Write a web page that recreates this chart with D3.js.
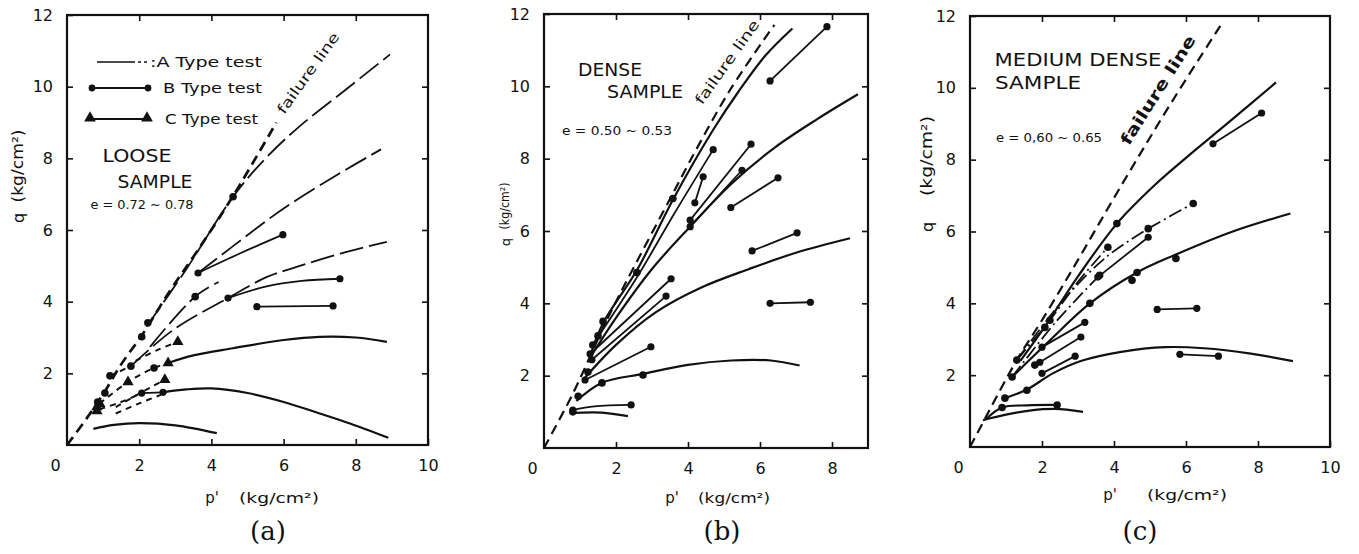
<!DOCTYPE html>
<html><head><meta charset="utf-8">
<script src="https://cdn.jsdelivr.net/npm/d3@7"></script>
<style>html,body{margin:0;padding:0;background:#fff;} svg{display:block;}</style>
</head><body>
<svg id="chart" width="1359" height="554"></svg>
<script>
// ---------------- data ----------------
const yTickValues = [2, 4, 6, 8, 10, 12];
const xTickValuesLoose = [0, 2, 4, 6, 8, 10];
const xTickValuesDense = [0, 2, 4, 6, 8];
const xTickValuesMedium = [0, 2, 4, 6, 8, 10];
const panelLetters = ["(a)", "(b)", "(c)"];
const legendLabels = [":A Type  test", "B Type  test", "C Type  test"];

// (a) loose sample
const looseFailure = [[0,0],[0.55,0.75],[1.05,1.5],[1.5,2.25],[2.1,3.1],[2.85,4.3],[3.6,5.4],[4.6,6.95],[5.8,9.0]];
const looseACurves = [
  [[2.2,3.3],[3.3,4.9],[4.6,6.93],[5.5,8.0],[6.45,8.9],[7.7,9.9],[8.95,10.9]],
  [[3.63,4.8],[4.6,5.55],[6.0,6.6],[7.5,7.55],[8.7,8.25]],
  [[1.77,2.2],[2.94,3.21],[4.46,4.1],[5.54,4.69],[6.36,4.97],[7.6,5.35],[8.86,5.67]],
  [[2.3,2.74],[3.55,4.14],[4.2,4.55]]
];
const looseSolidCurves = [
  [[2.8,2.29],[3.5,2.5],[4.6,2.7],[6.0,2.93],[7.0,3.02],[8.0,3.0],[8.86,2.88]],
  [[2.66,1.47],[3.3,1.55],[4.0,1.58],[5.0,1.45],[6.0,1.2],[7.0,0.88],[7.84,0.6],[8.9,0.2]],
  [[0.73,0.45],[1.3,0.56],[2.0,0.61],[3.0,0.55],[4.15,0.33]]
];
const looseBTests = [
  [[3.63,4.8],[4.8,5.35],[5.98,5.87]],
  [[4.46,4.1],[5.5,4.42],[6.5,4.58],[7.56,4.64]],
  [[5.26,3.86],[7.37,3.88]],
  [[2.07,1.45],[2.66,1.47]]
];
const looseCTests = [
  [[0.9,1.0],[1.5,1.2],[2.07,1.45]],
  [[1.35,0.88],[2.02,1.17],[2.6,1.4]],
  [[1.35,1.06],[2.3,1.6],[2.71,1.82]],
  [[0.9,1.15],[1.69,1.76],[2.41,2.15],[2.8,2.29]],
  [[1.19,1.93],[1.77,2.2]],
  [[1.9,2.35],[2.5,2.65],[3.07,2.88]]
];
const looseDots = [[1.05,1.45],[1.19,1.93],[1.77,2.2],[2.07,3.02],[2.24,3.41],[2.41,2.15],[3.55,4.14],[4.6,6.93],[0.85,1.2]];
const looseTriangles = [[0.83,1.06],[0.83,0.95],[0.91,1.15],[1.69,1.76],[2.71,1.82],[2.8,2.29],[3.07,2.88]];

// (b) dense sample
const denseFailure = [[0,0],[0.81,1.52],[1.75,3.55],[2.55,5.1],[3.55,6.98],[4.2,8.2],[5.2,9.95],[6.4,11.7]];
const denseSolidCurves = [
  [[1.3,2.6],[1.64,3.45],[2.6,4.95],[3.6,6.9],[4.7,8.8],[5.4,9.85],[6.15,10.85],[6.9,11.6]],
  [[1.25,2.45],[2.0,3.6],[3.0,4.95],[4.06,6.12],[5.2,7.3],[6.4,8.3],[7.6,9.1],[8.72,9.78]],
  [[1.1,1.9],[2.0,2.85],[3.1,3.75],[4.4,4.45],[5.7,4.95],[7.0,5.4],[8.5,5.8]],
  [[0.9,1.3],[1.6,1.8],[2.75,2.05],[4.0,2.3],[5.2,2.42],[6.3,2.42],[7.1,2.28]],
  [[0.8,0.97],[1.6,0.98],[2.33,0.88]]
];
const denseBTests = [
  [[1.35,2.85],[2.6,4.75],[3.6,6.45],[4.7,8.25]],
  [[4.19,6.78],[4.42,7.5]],
  [[4.06,6.3],[5.75,8.4]],
  [[4.06,6.12],[5.5,7.68]],
  [[5.19,6.65],[6.5,7.47]],
  [[5.78,5.45],[7.03,5.95]],
  [[6.28,10.15],[7.86,11.65]],
  [[6.28,4.0],[7.4,4.03]],
  [[1.28,2.6],[3.53,4.68]],
  [[1.33,2.44],[3.39,4.2]],
  [[1.14,1.88],[2.97,2.8]],
  [[0.8,1.05],[1.4,1.15],[2.42,1.19]]
];
const denseDots = [[0.8,1.0],[0.95,1.43],[1.61,1.8],[2.75,2.02],[1.5,3.1],[1.64,3.5],[2.58,4.85],[3.58,6.9],[1.22,2.1]];

// (c) medium dense sample
const mediumFailure = [[0,0],[0.28,0.53],[1.3,2.42],[2.0,3.53],[2.83,4.92],[4.25,7.36],[5.6,9.6],[7.0,11.8]];
const mediumSolidCurves = [
  [[1.4,2.4],[2.08,3.35],[3.0,4.75],[4.08,6.22],[5.14,7.3],[6.0,8.05],[7.2,9.05],[8.5,10.15]],
  [[1.17,1.95],[2.2,2.95],[3.33,4.0],[4.64,4.86],[5.7,5.35],[7.3,6.0],[8.9,6.5]],
  [[0.97,1.36],[1.58,1.6],[2.3,2.05],[3.1,2.4],[4.2,2.65],[5.42,2.78],[6.5,2.75],[7.8,2.6],[8.97,2.39]],
  [[0.36,0.75],[1.0,0.9],[1.7,1.02],[2.36,1.06],[3.14,0.98]],
  [[0.45,0.78],[0.89,1.1],[1.6,1.16],[2.42,1.17]]
];
const mediumBTests = [
  [[6.75,8.44],[8.1,9.3]],
  [[3.55,4.73],[4.95,5.84]],
  [[5.2,3.83],[6.3,3.86]],
  [[5.83,2.58],[6.9,2.53]],
  [[2.0,2.78],[3.19,3.47]],
  [[1.94,2.36],[3.08,3.06]],
  [[2.0,2.05],[2.92,2.53]]
];
const mediumACurves = [
  [[4.95,6.08],[5.6,6.45],[6.2,6.78]],
  [[1.3,2.42],[2.6,4.1],[3.8,5.3],[4.95,6.08]],
  [[1.3,2.42],[2.22,3.53],[3.0,4.6],[3.83,5.56]],
  [[1.17,1.95],[2.4,3.5],[3.55,4.73]]
];
const mediumDots = [[1.3,2.42],[1.17,1.95],[0.97,1.36],[0.89,1.1],[2.08,3.33],[2.22,3.53],[3.33,4.0],[4.08,6.22],[4.5,4.64],[4.64,4.86],[5.72,5.25],[1.58,1.58],[1.8,2.28],[3.6,4.78],[2.42,1.17],[3.83,5.56],[4.95,6.08],[6.2,6.78]];

// ---------------- drawing ----------------
const ink = "#111";
const svg = d3.select("#chart");
svg.append("rect").attr("width",1359).attr("height",554).attr("fill","#fff");

const panels = [
  {left:67, right:428, top:15, bottom:445, xMax:10, xTicks:xTickValuesLoose,
   failure:looseFailure, failW:2.7, solid:looseSolidCurves, aCurves:looseACurves, bTests:looseBTests,
   cTests:looseCTests, dots:looseDots, triangles:looseTriangles, aDash:"24,6"},
  {left:544, right:868, top:14, bottom:448, xMax:9, xTicks:xTickValuesDense,
   failure:denseFailure, failW:2.2, solid:denseSolidCurves, aCurves:[], bTests:denseBTests,
   cTests:[], dots:denseDots, triangles:[], aDash:"20,5,2,5"},
  {left:970, right:1330, top:16, bottom:447, xMax:10, xTicks:xTickValuesMedium,
   failure:mediumFailure, failW:2.2, solid:mediumSolidCurves, aCurves:mediumACurves, bTests:mediumBTests,
   cTests:[], dots:mediumDots, triangles:[], aDash:"14,4,2,4"}
];

panels.forEach((p, i) => {
  const x = d3.scaleLinear().domain([0, p.xMax]).range([p.left, p.right]);
  const y = d3.scaleLinear().domain([0, 12]).range([p.bottom, p.top]);
  const g = svg.append("g");
  const line = d3.line().x(d => x(d[0])).y(d => y(d[1])).curve(d3.curveCatmullRom.alpha(0.5));

  const axL = g.append("g").attr("transform", `translate(${p.left},0)`)
    .call(d3.axisLeft(y).tickValues(yTickValues).tickSizeInner(-6).tickSizeOuter(0).tickPadding(14));
  const axR = g.append("g").attr("transform", `translate(${p.right},0)`)
    .call(d3.axisRight(y).tickValues(yTickValues.filter(v=>v<12)).tickSizeInner(-6).tickSizeOuter(0).tickFormat(""));
  const axT = g.append("g").attr("transform", `translate(0,${p.top})`)
    .call(d3.axisTop(x).tickValues(p.xTicks.filter(v=>v>0 && v<p.xMax)).tickSizeInner(-6).tickSizeOuter(0).tickFormat(""));
  const axB = g.append("g").attr("transform", `translate(0,${p.bottom})`)
    .call(d3.axisBottom(x).tickValues(p.xTicks).tickSizeInner(-6).tickSizeOuter(0).tickPadding(15));
  [axL, axR, axT, axB].forEach(a => {
    a.select(".domain").remove();
    a.selectAll("line").attr("stroke", ink).attr("stroke-width", 1.6);
    a.selectAll("text").attr("fill", ink).attr("font-family", "DejaVu Sans").attr("font-size", 16);
  });
  axB.selectAll(".tick").filter(d => d === 0).select("text").attr("dx", -12);
  axB.selectAll(".tick").filter(d => d === 0).select("line").remove();

  g.append("rect").attr("x", p.left).attr("y", p.top)
    .attr("width", p.right - p.left).attr("height", p.bottom - p.top)
    .attr("fill", "none").attr("stroke", ink).attr("stroke-width", 2.2);

  g.append("path").attr("d", line(p.failure)).attr("fill","none").attr("stroke",ink)
    .attr("stroke-width", p.failW).attr("stroke-dasharray","10,6");
  p.solid.forEach(c => g.append("path").attr("d", line(c)).attr("fill","none")
    .attr("stroke",ink).attr("stroke-width",2.2));
  p.aCurves.forEach(c => g.append("path").attr("d", line(c)).attr("fill","none")
    .attr("stroke",ink).attr("stroke-width",1.8).attr("stroke-dasharray",p.aDash));
  p.cTests.forEach(c => g.append("path").attr("d", line(c)).attr("fill","none")
    .attr("stroke",ink).attr("stroke-width",2).attr("stroke-dasharray","6,5"));
  p.bTests.forEach(c => {
    g.append("path").attr("d", line(c)).attr("fill","none").attr("stroke",ink).attr("stroke-width",1.8);
    [c[0], c[c.length-1]].forEach(pt => g.append("circle").attr("cx", x(pt[0])).attr("cy", y(pt[1]))
      .attr("r", 3.6).attr("fill", ink));
  });
  p.dots.forEach(pt => g.append("circle").attr("cx", x(pt[0])).attr("cy", y(pt[1])).attr("r", 3.8).attr("fill", ink));
  const tri = d3.symbol().type(d3.symbolTriangle).size(55);
  p.triangles.forEach(pt => g.append("path").attr("d", tri())
    .attr("transform", `translate(${x(pt[0])},${y(pt[1])})`).attr("fill", ink));
});

function txt(x0, y0, s, size, opts = {}) {
  const t = svg.append("text").attr("x", x0).attr("y", y0).text(s)
    .attr("font-family", opts.family || "DejaVu Sans").attr("font-size", size)
    .attr("fill", ink).attr("text-anchor", opts.anchor || "middle")
    .attr("dominant-baseline", "central");
  if (opts.len) t.attr("textLength", opts.len).attr("lengthAdjust", "spacingAndGlyphs");
  if (opts.rot !== undefined) t.attr("transform", `rotate(${opts.rot},${x0},${y0})`);
  if (opts.weight) t.attr("font-weight", opts.weight);
  return t;
}

// axis titles
txt(18, 218, "q", 16, {rot:-90});
txt(18, 166, "(kg/cm²)", 15, {rot:-90, len:73});
txt(505, 242, "q", 13, {rot:-90});
txt(505, 206, "(kg/cm²)", 12, {rot:-90, len:47});
txt(927, 227, "q", 16, {rot:-90});
txt(927, 156, "(kg/cm²)", 15, {rot:-90, len:80});

txt(212, 498, "p'", 15); txt(279, 498, "(kg/cm²)", 14, {len:80});
txt(672, 498, "p'", 15); txt(734, 498, "(kg/cm²)", 14, {len:72});
txt(1110, 495, "p'", 15); txt(1187, 495, "(kg/cm²)", 14, {len:80});

[268, 722, 1140].forEach((cx, i) => txt(cx, 531, panelLetters[i], 26, {family:"DejaVu Serif"}));

// legend (a)
const lg = svg.append("g");
lg.append("line").attr("x1",97).attr("x2",147).attr("y1",62).attr("y2",62)
  .attr("stroke",ink).attr("stroke-width",1.6).attr("stroke-dasharray","38,3,3,3");
lg.append("line").attr("x1",92).attr("x2",148).attr("y1",88).attr("y2",88).attr("stroke",ink).attr("stroke-width",2);
[92,148].forEach(cx => lg.append("circle").attr("cx",cx).attr("cy",88).attr("r",3.4).attr("fill",ink));
lg.append("line").attr("x1",90).attr("x2",147).attr("y1",119).attr("y2",119).attr("stroke",ink).attr("stroke-width",2);
[90,147].forEach(cx => lg.append("path").attr("d", d3.symbol().type(d3.symbolTriangle).size(60)())
  .attr("transform",`translate(${cx},${118})`).attr("fill",ink));
txt(150, 62, legendLabels[0], 14, {anchor:"start", len:112});
txt(163, 88, legendLabels[1], 14, {anchor:"start", len:99});
txt(165, 119, legendLabels[2], 14, {anchor:"start", len:93});

txt(137, 156, "LOOSE", 17, {len:69});
txt(155, 182, "SAMPLE", 17, {len:75});
txt(142, 204, "e = 0.72 ~ 0.78", 13, {len:103});
txt(610, 70, "DENSE", 17, {len:64});
txt(645, 92, "SAMPLE", 17, {len:76});
txt(617, 130, "e = 0.50 ~ 0.53", 13, {len:110});
txt(1078, 60, "MEDIUM  DENSE", 17, {len:167});
txt(1038, 83, "SAMPLE", 17, {len:86});
txt(1049, 137, "e = 0,60 ~ 0.65", 13, {len:106});

// failure line labels
txt(308, 73, "failure line", 14, {rot:-54.5, len:96});
txt(727, 62, "failure line", 14, {rot:-54.5, len:100});
txt(1158, 90, "failure line", 16, {rot:-57.7, len:126, weight:"bold"});
</script>
</body></html>
